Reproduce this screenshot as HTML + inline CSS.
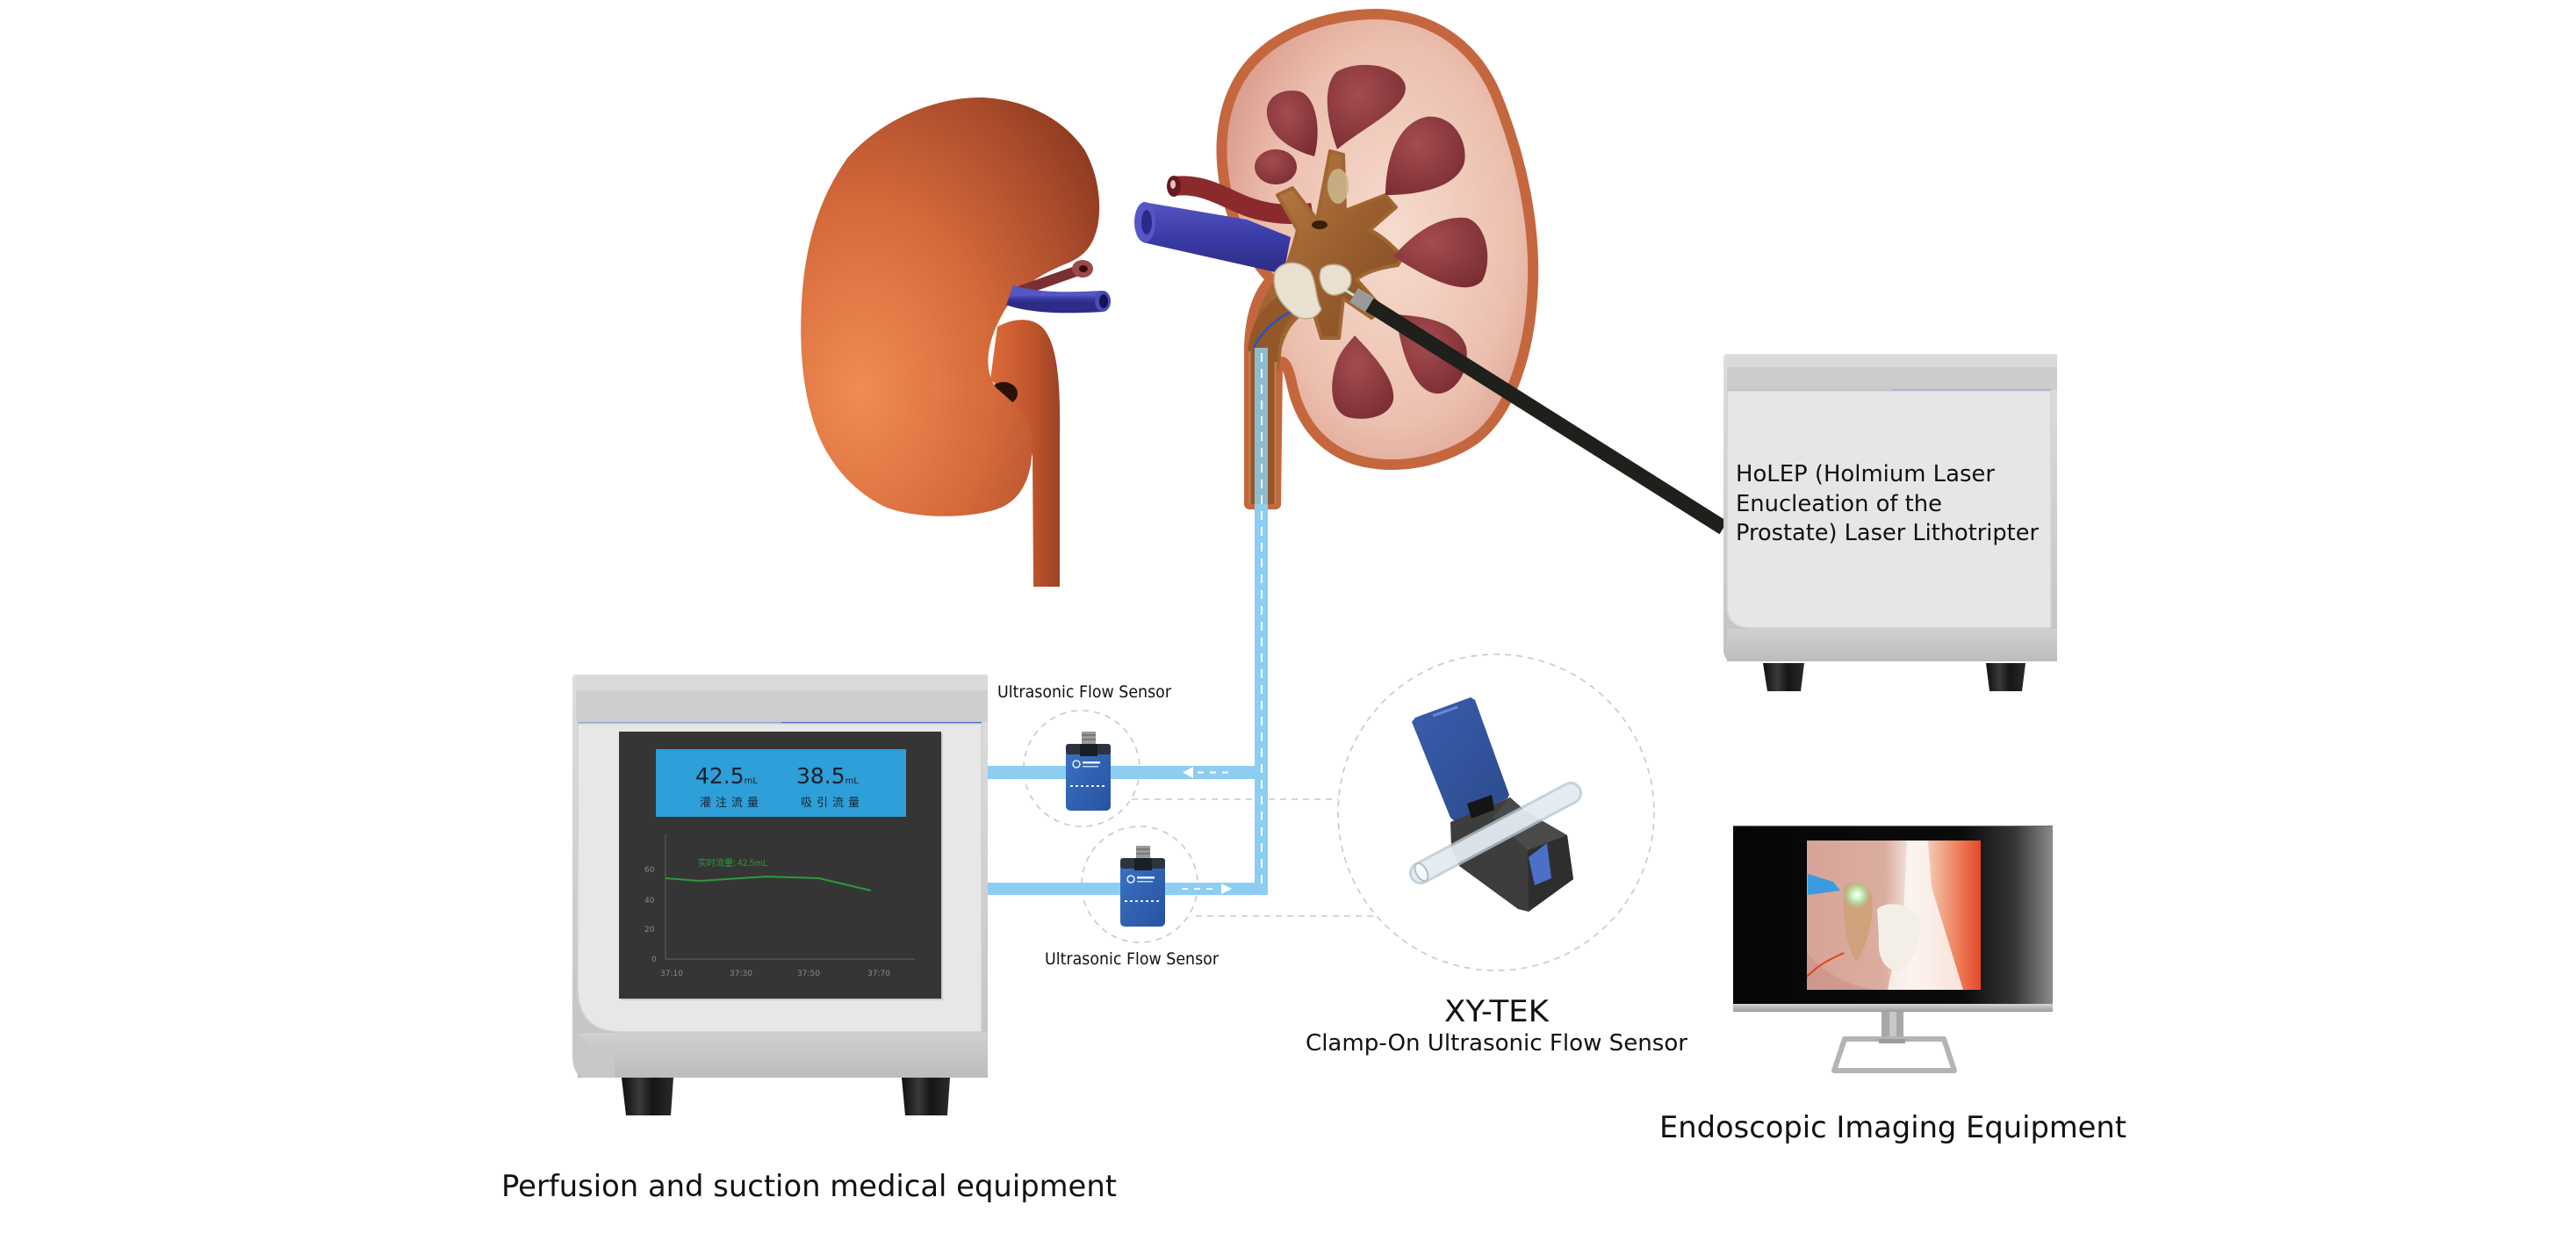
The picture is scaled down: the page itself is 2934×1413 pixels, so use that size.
<!DOCTYPE html>
<html>
<head>
<meta charset="utf-8">
<style>
  html,body{margin:0;padding:0;background:#fff;}
  svg{display:block;}
  text{font-family:"DejaVu Sans","Liberation Sans",sans-serif;}
  .cjk{font-family:"Noto Sans CJK SC","WenQuanYi Zen Hei",sans-serif;}
</style>
</head>
<body>
<svg width="2934" height="1413" viewBox="0 0 2934 1413" xmlns="http://www.w3.org/2000/svg">
<defs>
  <radialGradient id="lk" cx="0.22" cy="0.68" r="0.95" fx="0.2" fy="0.7">
    <stop offset="0" stop-color="#f18c55"/>
    <stop offset="0.45" stop-color="#d66a3a"/>
    <stop offset="0.8" stop-color="#a94b2c"/>
    <stop offset="1" stop-color="#8a3820"/>
  </radialGradient>
  <linearGradient id="lur" x1="0" x2="1" y1="0" y2="0">
    <stop offset="0" stop-color="#dc6a38"/>
    <stop offset="0.6" stop-color="#c0552c"/>
    <stop offset="1" stop-color="#9c4226"/>
  </linearGradient>
  <radialGradient id="cortex" cx="0.55" cy="0.45" r="0.6">
    <stop offset="0" stop-color="#f6dccf"/>
    <stop offset="0.65" stop-color="#ecbfae"/>
    <stop offset="1" stop-color="#d9998a"/>
  </radialGradient>
  <radialGradient id="pyr" cx="0.4" cy="0.35" r="0.75">
    <stop offset="0" stop-color="#a44c50"/>
    <stop offset="1" stop-color="#7a2d33"/>
  </radialGradient>
  <linearGradient id="pelvis" x1="0" x2="1" y1="0" y2="1">
    <stop offset="0" stop-color="#c08448"/>
    <stop offset="0.5" stop-color="#9c6030"/>
    <stop offset="1" stop-color="#7a4620"/>
  </linearGradient>
  <linearGradient id="shell" x1="0" x2="0" y1="0" y2="1">
    <stop offset="0" stop-color="#dedede"/>
    <stop offset="1" stop-color="#c2c2c2"/>
  </linearGradient>
  <linearGradient id="lowband" x1="0" x2="0" y1="0" y2="1">
    <stop offset="0" stop-color="#d0d0d0"/>
    <stop offset="1" stop-color="#bcbcbc"/>
  </linearGradient>
  <linearGradient id="foot" x1="0" x2="1" y1="0" y2="0">
    <stop offset="0" stop-color="#0e0e0e"/>
    <stop offset="0.35" stop-color="#3a3a3a"/>
    <stop offset="0.6" stop-color="#151515"/>
    <stop offset="1" stop-color="#2a2a2a"/>
  </linearGradient>
  <linearGradient id="sens" x1="0" x2="1" y1="0" y2="1">
    <stop offset="0" stop-color="#3b72c4"/>
    <stop offset="1" stop-color="#2753a0"/>
  </linearGradient>
  <linearGradient id="mon" x1="0" x2="1" y1="0" y2="0">
    <stop offset="0" stop-color="#060606"/>
    <stop offset="0.72" stop-color="#0b0b0b"/>
    <stop offset="0.88" stop-color="#353535"/>
    <stop offset="1" stop-color="#8c8c8c"/>
  </linearGradient>
  <linearGradient id="photo" x1="0" x2="1" y1="0" y2="0">
    <stop offset="0" stop-color="#d6a398"/>
    <stop offset="0.45" stop-color="#dcae9f"/>
    <stop offset="0.6" stop-color="#f4e8e0"/>
    <stop offset="0.72" stop-color="#f4c0a8"/>
    <stop offset="0.88" stop-color="#ec7a55"/>
    <stop offset="1" stop-color="#e4482a"/>
  </linearGradient>
  <radialGradient id="glow" cx="0.5" cy="0.5" r="0.5">
    <stop offset="0" stop-color="#ffffff"/>
    <stop offset="0.35" stop-color="#c8f5c0"/>
    <stop offset="1" stop-color="#9fd89a" stop-opacity="0"/>
  </radialGradient>
  <linearGradient id="lid" x1="0" x2="1" y1="0" y2="1">
    <stop offset="0" stop-color="#3a5eae"/>
    <stop offset="1" stop-color="#2b4a8c"/>
  </linearGradient>
  <linearGradient id="silver" x1="0" x2="0" y1="0" y2="1">
    <stop offset="0" stop-color="#d4d4d4"/>
    <stop offset="1" stop-color="#9c9c9c"/>
  </linearGradient>
  <linearGradient id="vein" x1="0" x2="0" y1="0" y2="1">
    <stop offset="0" stop-color="#5656c4"/>
    <stop offset="0.5" stop-color="#3a3aa6"/>
    <stop offset="1" stop-color="#2c2c86"/>
  </linearGradient>
</defs>

<rect width="2934" height="1413" fill="#ffffff"/>

<!-- ================= LEFT KIDNEY ================= -->
<g>
  <!-- ureter (behind lower lobe) -->
  <path d="M1136 372 C1158 360 1180 362 1190 376 C1205 396 1208 440 1207 500 L1207 668 L1177 668 L1176 520 C1170 482 1150 452 1128 432 Z" fill="url(#lur)"/>
  <ellipse cx="1143" cy="448" rx="16" ry="13" fill="#2a120a"/>
  <!-- body -->
  <path d="M1120 111 C1170 114 1210 135 1235 170 C1252 200 1255 235 1250 258 C1245 280 1235 292 1215 300 C1185 312 1160 328 1145 352 C1125 385 1118 420 1135 442 C1150 455 1170 470 1175 495 C1178 530 1170 565 1140 578 C1110 590 1050 592 1010 578 C975 562 945 530 930 490 C915 450 910 400 913 345 C916 285 930 230 965 180 C1000 140 1060 110 1120 111 Z" fill="url(#lk)"/>
  <!-- vessels -->
  <path d="M1160 332 L1228 308" stroke="#7a3030" stroke-width="12" stroke-linecap="round"/>
  <ellipse cx="1233" cy="306" rx="12" ry="10" fill="#9a4a48"/>
  <ellipse cx="1234" cy="306" rx="5" ry="4" fill="#3a0c0c"/>
  <path d="M1150 336 C1180 346 1220 345 1255 343" stroke="url(#vein)" stroke-width="24" fill="none"/>
  <ellipse cx="1256" cy="343" rx="9" ry="12" fill="#4a4ab8"/>
  <ellipse cx="1257" cy="343" rx="5" ry="8" fill="#141450"/>
</g>

<!-- ================= RIGHT KIDNEY (cross-section) ================= -->
<g>
  <path d="M1423 574 L1423 395 C1424 360 1432 335 1448 318 C1430 300 1405 262 1396 215 C1386 165 1392 115 1420 78 C1450 40 1505 16 1570 16 C1635 18 1685 55 1708 118 C1732 180 1748 250 1746 320 C1744 400 1720 470 1680 500 C1640 528 1580 538 1535 520 C1500 505 1480 475 1472 440 C1468 420 1462 405 1455 415 L1453 574 Z" fill="url(#cortex)" stroke="#c4673f" stroke-width="12" stroke-linejoin="round"/>

  <!-- vessels entering hilum -->
  <path d="M1302 230 L1420 250 L1470 270 L1462 312 L1302 276 Z" fill="url(#vein)"/>
  <ellipse cx="1304" cy="253" rx="12" ry="23" fill="#5656c8"/>
  <ellipse cx="1306" cy="253" rx="6" ry="14" fill="#2a2a8a"/>
  <path d="M1337 212 C1370 208 1392 224 1420 235 C1445 244 1470 246 1495 242" stroke="#8a2a2c" stroke-width="22" fill="none"/>
  <ellipse cx="1337" cy="212" rx="8" ry="12" fill="#6a181c"/>
  <ellipse cx="1336" cy="210" rx="3" ry="5" fill="#e8c0c0"/>

  <!-- pelvis -->
  <path d="M1423 420 C1425 370 1440 335 1465 305 C1470 290 1475 275 1478 262 L1455 222 L1472 214 L1500 250 L1515 172 L1530 176 L1532 240 L1578 222 L1590 236 L1560 262 C1575 268 1590 285 1598 292 L1592 302 C1570 305 1555 310 1545 318 L1575 352 L1562 362 L1530 340 L1525 385 L1505 385 L1495 352 C1480 355 1465 370 1458 395 L1455 420 Z" fill="url(#pelvis)" stroke="#a06632" stroke-width="4" stroke-linejoin="round"/>
  <ellipse cx="1503" cy="256" rx="9" ry="5" fill="#3a1e0c"/>

  <!-- pyramids -->
  <path d="M1497 178 C1475 172 1446 158 1443 130 C1441 110 1460 100 1480 104 C1500 110 1505 150 1497 178 Z" fill="url(#pyr)"/>
  <path d="M1523 170 C1512 140 1505 100 1522 82 C1545 68 1590 72 1600 95 C1608 120 1560 140 1523 170 Z" fill="url(#pyr)"/>
  <path d="M1578 222 C1578 185 1590 140 1625 133 C1655 130 1672 160 1668 185 C1660 212 1620 222 1578 222 Z" fill="url(#pyr)"/>
  <ellipse cx="1453" cy="190" rx="24" ry="20" fill="url(#pyr)"/>
  <path d="M1587 292 C1610 265 1640 245 1670 248 C1695 255 1700 300 1688 320 C1670 338 1630 320 1587 292 Z" fill="url(#pyr)"/>
  <path d="M1590 358 C1620 360 1660 365 1670 395 C1675 425 1655 450 1635 448 C1610 445 1595 400 1590 358 Z" fill="url(#pyr)"/>
  <path d="M1543 382 C1560 400 1590 430 1587 455 C1583 475 1555 480 1535 475 C1515 468 1515 440 1520 420 C1525 400 1535 392 1543 382 Z" fill="url(#pyr)"/>
  <!-- stone cluster in upper calyx -->
  <ellipse cx="1524" cy="212" rx="12" ry="20" fill="#c9b48a" opacity="0.9"/>

  <!-- ureter -->
  <path d="M1421 574 L1421 400 C1423 370 1440 345 1460 335 L1472 360 C1460 372 1455 390 1455 410 L1455 574 Z" fill="#93572a"/>
  <path d="M1423 574 L1423 400" stroke="#c97a4c" stroke-width="3"/>
  <path d="M1453 574 L1453 412" stroke="#c97a4c" stroke-width="3"/>
  <path d="M1428 396 C1440 370 1470 350 1500 345" stroke="#2a50c0" stroke-width="2.5" fill="none"/>

  <!-- stones -->
  <path d="M1452 310 C1460 296 1480 296 1492 308 C1500 322 1498 340 1505 352 C1498 366 1480 366 1470 355 C1458 345 1448 330 1452 310 Z" fill="#e9e0cf" stroke="#b9a98c" stroke-width="1.5"/>
  <path d="M1505 306 C1515 298 1532 300 1538 312 C1542 326 1532 336 1518 336 C1506 334 1500 318 1505 306 Z" fill="#e9e0cf" stroke="#b9a98c" stroke-width="1.5"/>
</g>

<!-- scope -->
<line x1="1532" y1="330" x2="1548" y2="340" stroke="#bfe8d8" stroke-width="3"/>
<line x1="1552" y1="342" x2="1963" y2="601" stroke="#1f1f1b" stroke-width="17"/>
<line x1="1542" y1="336" x2="1560" y2="347" stroke="#9a9a9a" stroke-width="19"/>

<!-- ================= DASHED CIRCLES & CONNECTORS ================= -->
<g fill="none" stroke="#c9c9c9" stroke-width="1.6" stroke-dasharray="7 6">
  <circle cx="1232" cy="875" r="66"/>
  <circle cx="1298" cy="1007" r="66"/>
  <circle cx="1704" cy="925" r="180"/>
  <line x1="1289" y1="910" x2="1524" y2="910"/>
  <line x1="1362" y1="1043" x2="1568" y2="1043"/>
</g>

<!-- ================= TUBES ================= -->
<g fill="#8dcdf2">
  <rect x="1429" y="396" width="15" height="178" opacity="0.85"/>
  <rect x="1429" y="574" width="15" height="445"/>
  <rect x="1125" y="872" width="319" height="15"/>
  <rect x="1125" y="1005" width="319" height="14"/>
</g>
<line x1="1437" y1="402" x2="1437" y2="1012" stroke="#ffffff" stroke-width="2" stroke-dasharray="10 8"/>
<line x1="1364" y1="879.5" x2="1402" y2="879.5" stroke="#ffffff" stroke-width="2" stroke-dasharray="7 7"/>
<polygon points="1347,879.5 1359,873 1359,886" fill="#ffffff"/>
<line x1="1346" y1="1012" x2="1386" y2="1012" stroke="#ffffff" stroke-width="2" stroke-dasharray="7 7"/>
<polygon points="1403,1012 1391,1006 1391,1018" fill="#ffffff"/>

<!-- ================= SMALL SENSORS ================= -->
<g>
  <rect x="1232" y="833" width="16" height="16" fill="#9a9a9a"/>
  <rect x="1232" y="836" width="16" height="2" fill="#777"/>
  <rect x="1232" y="841" width="16" height="2" fill="#777"/>
  <rect x="1214" y="847" width="51" height="76" rx="5" fill="url(#sens)"/>
  <rect x="1214" y="847" width="51" height="12" rx="3" fill="#2c3440"/>
  <rect x="1230" y="847" width="20" height="14" fill="#1a1f26"/>
  <circle cx="1226" cy="870" r="4" fill="none" stroke="#e8f0ff" stroke-width="1.5"/>
  <rect x="1233" y="867" width="20" height="2.5" fill="#e8f0ff"/>
  <rect x="1233" y="872" width="18" height="1.5" fill="#c8d8f0"/>
  <line x1="1219" y1="895" x2="1260" y2="895" stroke="#e8f0ff" stroke-width="2" stroke-dasharray="3 3"/>
</g>
<g>
  <rect x="1294" y="963" width="16" height="16" fill="#9a9a9a"/>
  <rect x="1294" y="966" width="16" height="2" fill="#777"/>
  <rect x="1294" y="971" width="16" height="2" fill="#777"/>
  <rect x="1276" y="977" width="51" height="78" rx="5" fill="url(#sens)"/>
  <rect x="1276" y="977" width="51" height="12" rx="3" fill="#2c3440"/>
  <rect x="1292" y="977" width="20" height="14" fill="#1a1f26"/>
  <circle cx="1288" cy="1001" r="4" fill="none" stroke="#e8f0ff" stroke-width="1.5"/>
  <rect x="1295" y="998" width="20" height="2.5" fill="#e8f0ff"/>
  <rect x="1295" y="1003" width="18" height="1.5" fill="#c8d8f0"/>
  <line x1="1281" y1="1026" x2="1322" y2="1026" stroke="#e8f0ff" stroke-width="2" stroke-dasharray="3 3"/>
</g>

<!-- ================= CLAMP-ON SENSOR ================= -->
<g>
  <polygon points="1608,822 1612,817 1675,794 1680,797 1719,905 1717,909 1657,935 1652,931" fill="url(#lid)"/>
  <line x1="1632" y1="815" x2="1660" y2="805" stroke="#6a8ad0" stroke-width="3"/>
  <polygon points="1652,936 1720,908 1738,924 1785,951 1792,1001 1741,1038 1729,1035 1662,986 1653,965" fill="#3d3d3d"/>
  <polygon points="1720,908 1738,924 1785,951 1740,968 1700,930" fill="#4a4a4a"/>
  <polygon points="1740,968 1785,951 1792,1001 1741,1038" fill="#2e2e2e"/>
  <polygon points="1671,915 1699,905 1702,922 1676,932" fill="#151515"/>
  <polygon points="1741,976 1762,960 1767,1000 1748,1008" fill="#4a70c8"/>
  <line x1="1618" y1="994" x2="1789" y2="903" stroke="#b8c8d2" stroke-width="26" stroke-linecap="round" opacity="0.8"/>
  <line x1="1618" y1="994" x2="1789" y2="903" stroke="#eef5fa" stroke-width="20" stroke-linecap="round" opacity="0.75"/>
  <ellipse cx="1619" cy="993" rx="6" ry="11" transform="rotate(-28 1619 993)" fill="#f6fafc" stroke="#b0c0c8" stroke-width="2"/>
</g>

<!-- ================= PERFUSION MACHINE ================= -->
<g>
  <path d="M652 772 Q652 768 656 768 L1125 768 L1125 1227 L668 1227 Q652 1227 652 1200 Z" fill="url(#shell)"/>
  <rect x="656" y="770" width="469" height="52" fill="#cdcecd"/>
  <rect x="656" y="770" width="469" height="16" fill="#d9d9d9"/>
  <line x1="658" y1="823" x2="890" y2="823" stroke="#8ea6d8" stroke-width="2"/>
  <line x1="890" y1="823" x2="1118" y2="823" stroke="#4a6cc6" stroke-width="2"/>
  <path d="M658 824 L1118 824 L1118 1175 L708 1175 Q658 1175 658 1125 Z" fill="#e7e7e7" stroke="#d0d0d0" stroke-width="1.5"/>
  <rect x="658" y="1176" width="467" height="51" fill="url(#lowband)"/>
  <path d="M652 1150 Q655 1195 700 1200 L700 1227 L668 1227 Q652 1227 652 1200 Z" fill="#c8c8c8"/>
  <!-- screen -->
  <rect x="707" y="835" width="367" height="304" fill="#bdbdbd" opacity="0.6"/>
  <rect x="705" y="833" width="367" height="304" fill="#353535"/>
  <rect x="747" y="853" width="285" height="77" fill="#2e9fd8"/>
  <text x="792" y="892" font-size="25" fill="#17212e">42.5<tspan font-size="10">mL</tspan></text>
  <text x="907" y="892" font-size="25" fill="#17212e">38.5<tspan font-size="10">mL</tspan></text>
  <text x="797" y="918" class="cjk" font-size="13" fill="#1a2636" letter-spacing="5">灌注流量</text>
  <text x="912" y="918" class="cjk" font-size="13" fill="#1a2636" letter-spacing="5">吸引流量</text>
  <!-- chart -->
  <line x1="758" y1="950" x2="758" y2="1092" stroke="#5a5a5a" stroke-width="1.2"/>
  <line x1="758" y1="1092" x2="1042" y2="1092" stroke="#5a5a5a" stroke-width="1.2"/>
  <g font-size="9" fill="#8a8a8a">
    <text x="734" y="993">60</text>
    <text x="734" y="1028">40</text>
    <text x="734" y="1061">20</text>
    <text x="742" y="1095">0</text>
    <text x="752" y="1111">37:10</text>
    <text x="831" y="1111">37:30</text>
    <text x="908" y="1111">37:50</text>
    <text x="988" y="1111">37:70</text>
  </g>
  <text x="795" y="986" class="cjk" font-size="10" fill="#2c9a3c">实时流量:  42.5mL</text>
  <polyline points="758,1000 797,1003 827,1001 873,998 933,1000 992,1014" fill="none" stroke="#2c9a3c" stroke-width="2"/>
  <!-- feet -->
  <polygon points="708,1227 767,1227 764,1270 713,1270" fill="url(#foot)"/>
  <polygon points="1027,1227 1082,1227 1079,1270 1031,1270" fill="url(#foot)"/>
</g>

<!-- ================= LASER LITHOTRIPTER ================= -->
<g>
  <path d="M1963 407 Q1963 403 1967 403 L2343 403 L2343 753 L1975 753 Q1963 753 1963 740 Z" fill="url(#shell)"/>
  <rect x="1967" y="405" width="376" height="39" fill="#cbcccb"/>
  <rect x="1967" y="405" width="376" height="13" fill="#d9d9d9"/>
  <line x1="1967" y1="444.5" x2="2155" y2="444.5" stroke="#8ea6d8" stroke-width="1.6"/>
  <line x1="2155" y1="444.5" x2="2336" y2="444.5" stroke="#4a6cc6" stroke-width="1.6"/>
  <path d="M1967 445 L2336 445 L2336 715 L1995 715 Q1967 715 1967 690 Z" fill="#e6e6e6" stroke="#d2d2d2" stroke-width="1.5"/>
  <rect x="1967" y="716" width="376" height="37" fill="url(#lowband)"/>
  <polygon points="2008,755 2055,755 2051,787 2013,787" fill="url(#foot)"/>
  <polygon points="2262,755 2307,755 2303,787 2266,787" fill="url(#foot)"/>
  <g font-size="25.5" fill="#111">
    <text x="1977" y="548" textLength="295" lengthAdjust="spacingAndGlyphs">HoLEP (Holmium Laser</text>
    <text x="1977" y="582" textLength="235" lengthAdjust="spacingAndGlyphs">Enucleation of the</text>
    <text x="1977" y="615" textLength="345" lengthAdjust="spacingAndGlyphs">Prostate) Laser Lithotripter</text>
  </g>
</g>

<!-- ================= MONITOR ================= -->
<g>
  <rect x="1974" y="940" width="364" height="203" fill="url(#mon)"/>
  <line x1="1974" y1="940.5" x2="2338" y2="940.5" stroke="#6a6a6a" stroke-width="1"/>
  <rect x="1974" y="1143" width="364" height="9" fill="url(#silver)"/>
  <rect x="2058" y="957" width="198" height="170" fill="url(#photo)"/>
  <path d="M2058 1085 C2080 1110 2110 1125 2140 1127 L2058 1127 Z" fill="#c98f86" opacity="0.6"/>
  <polygon points="2172,957 2196,957 2200,1010 2236,1127 2150,1127 2168,1040" fill="#fbf6f2" opacity="0.85"/>
  <path d="M2138 1035 C2150 1025 2175 1028 2185 1045 C2190 1065 2182 1095 2165 1105 C2148 1108 2138 1090 2140 1070 Z" fill="#f4efe6"/>
  <path d="M2100 1010 C2110 1000 2128 1005 2132 1020 C2135 1050 2125 1080 2115 1095 C2105 1085 2098 1050 2100 1010 Z" fill="#c9a070" opacity="0.75"/>
  <polygon points="2059,995 2088,1004 2096,1014 2059,1019" fill="#3a9be0"/>
  <circle cx="2115" cy="1019" r="16" fill="url(#glow)"/>
  <path d="M2058 1112 C2075 1095 2090 1090 2100 1085" stroke="#e04020" stroke-width="2" fill="none"/>
  <!-- stand -->
  <rect x="2143" y="1152" width="25" height="34" fill="#a8a8a8"/>
  <rect x="2152" y="1152" width="8" height="34" fill="#c8c8c8"/>
  <path d="M2101 1183 L2214 1183 L2226 1219 L2089 1219 Z" fill="none" stroke="#b4b4b4" stroke-width="6" stroke-linejoin="round"/>
  <rect x="2140" y="1183" width="30" height="5" fill="#9a9a9a"/>
</g>

<!-- ================= LABELS ================= -->
<g fill="#111">
  <text x="1136" y="794" font-size="19" textLength="198" lengthAdjust="spacingAndGlyphs">Ultrasonic Flow Sensor</text>
  <text x="1190" y="1098" font-size="19" textLength="198" lengthAdjust="spacingAndGlyphs">Ultrasonic Flow Sensor</text>
  <text x="1645" y="1163" font-size="34" textLength="119" lengthAdjust="spacingAndGlyphs">XY-TEK</text>
  <text x="1487" y="1196" font-size="26" textLength="435" lengthAdjust="spacingAndGlyphs">Clamp-On Ultrasonic Flow Sensor</text>
  <text x="1890" y="1295" font-size="34" textLength="532" lengthAdjust="spacingAndGlyphs">Endoscopic Imaging Equipment</text>
  <text x="571" y="1362" font-size="34" textLength="701" lengthAdjust="spacingAndGlyphs">Perfusion and suction medical equipment</text>
</g>
</svg>
</body>
</html>
